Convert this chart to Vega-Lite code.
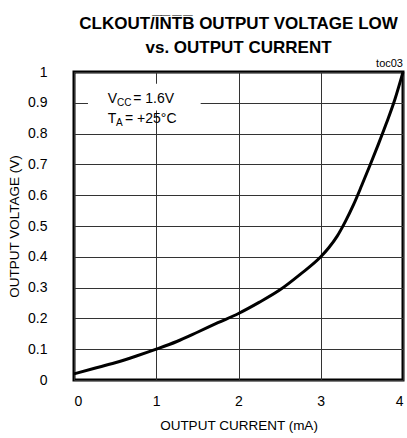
{
  "$schema": "https://vega.github.io/schema/vega-lite/v6.json",
  "width": 329,
  "height": 308,
  "autosize": "none",
  "padding": {"left": 74, "top": 72, "right": 4, "bottom": 58},
  "background": "white",
  "config": {
    "font": "Liberation Sans",
    "view": {"stroke": "black", "strokeWidth": 3},
    "axis": {
      "grid": true,
      "gridColor": "#333",
      "gridWidth": 1,
      "gridOpacity": 1,
      "domain": false,
      "ticks": false,
      "labelOverlap": false,
      "labelFont": "Liberation Sans",
      "labelFontSize": 14,
      "labelColor": "black",
      "titleFont": "Liberation Sans",
      "titleFontSize": 13.5,
      "titleFontWeight": "normal",
      "titleColor": "black"
    }
  },
  "title": {
    "text": ["CLKOUT/I̅N̅T̅B̅ OUTPUT VOLTAGE LOW", "vs. OUTPUT CURRENT"],
    "font": "Liberation Sans",
    "fontSize": 17,
    "fontWeight": "bold",
    "color": "black",
    "anchor": "middle",
    "frame": "group",
    "offset": 1,
    "lineHeight": 24
  },
  "datasets": {
    "curve": [
      {"x": 0, "y": 0.02},
      {"x": 0.25, "y": 0.038},
      {"x": 0.5, "y": 0.056},
      {"x": 0.75, "y": 0.077},
      {"x": 1, "y": 0.1},
      {"x": 1.25, "y": 0.125},
      {"x": 1.5, "y": 0.155},
      {"x": 1.75, "y": 0.186},
      {"x": 2, "y": 0.216},
      {"x": 2.25, "y": 0.252},
      {"x": 2.5, "y": 0.292},
      {"x": 2.75, "y": 0.343},
      {"x": 3, "y": 0.4},
      {"x": 3.1, "y": 0.43},
      {"x": 3.2, "y": 0.467},
      {"x": 3.3, "y": 0.515},
      {"x": 3.4, "y": 0.57},
      {"x": 3.5, "y": 0.633},
      {"x": 3.6, "y": 0.698},
      {"x": 3.7, "y": 0.765},
      {"x": 3.8, "y": 0.835},
      {"x": 3.9, "y": 0.91},
      {"x": 4, "y": 1.0}
    ],
    "box": [{"x": 0.17, "x2": 1.54, "y": 0.875, "y2": 0.962}],
    "main": [
      {"x": 0.41, "y": 0.898, "t": "V"},
      {"x": 0.72, "y": 0.898, "t": "= 1.6V"},
      {"x": 0.41, "y": 0.833, "t": "T"},
      {"x": 0.62, "y": 0.833, "t": "= +25°C"}
    ],
    "sub": [
      {"x": 0.523, "y": 0.889, "t": "CC"},
      {"x": 0.51, "y": 0.824, "t": "A"}
    ],
    "tag": [{"x": 4, "y": 1, "t": "toc03"}]
  },
  "encoding": {
    "x": {"field": "x", "type": "quantitative", "scale": {"domain": [0, 4], "nice": false}, "axis": {"values": [0, 1, 2, 3, 4], "title": "OUTPUT CURRENT (mA)", "labelPadding": 14, "titlePadding": 10, "format": "~g"}},
    "y": {"field": "y", "type": "quantitative", "scale": {"domain": [0, 1], "nice": false, "zero": true}, "axis": {"values": [0, 0.1, 0.2, 0.3, 0.4, 0.5, 0.6, 0.7, 0.8, 0.9, 1], "title": "OUTPUT VOLTAGE (V)", "labelPadding": 27, "titlePadding": 6, "format": "~g"}}
  },
  "layer": [
    {
      "data": {"name": "box"},
      "mark": {"type": "rect", "fill": "white"},
      "encoding": {
        "x2": {"field": "x2"},
        "y2": {"field": "y2"}
      }
    },
    {
      "data": {"name": "curve"},
      "mark": {"type": "line", "color": "black", "strokeWidth": 3, "interpolate": "monotone"}
    },
    {
      "data": {"name": "main"},
      "mark": {"type": "text", "align": "left", "baseline": "alphabetic", "fontSize": 14, "color": "black"},
      "encoding": {"text": {"field": "t"}}
    },
    {
      "data": {"name": "sub"},
      "mark": {"type": "text", "align": "left", "baseline": "alphabetic", "fontSize": 10, "color": "black"},
      "encoding": {"text": {"field": "t"}}
    },
    {
      "data": {"name": "tag"},
      "mark": {"type": "text", "align": "right", "baseline": "alphabetic", "fontSize": 11, "dy": -5, "color": "black"},
      "encoding": {"text": {"field": "t"}}
    }
  ]
}
